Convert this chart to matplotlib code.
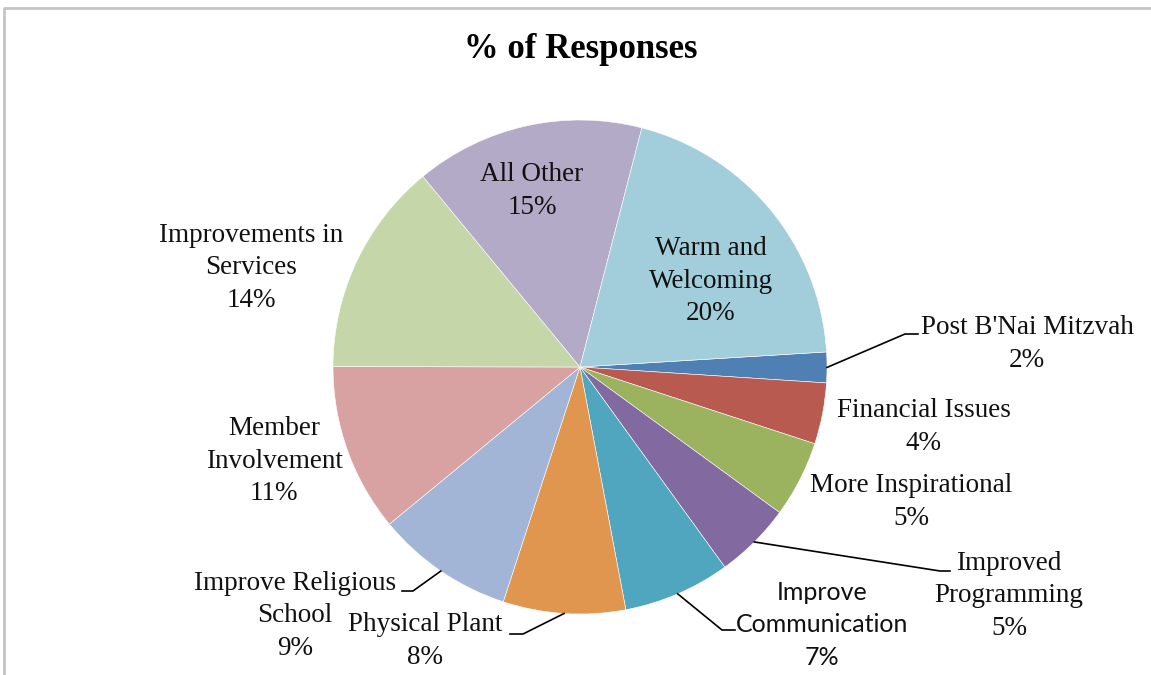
import numpy as np
import matplotlib.pyplot as plt

# Respuestas agrupadas por tema, en el orden en que van las porciones (sentido horario)
temas = ['Post B\'Nai Mitzvah', 'Financial Issues', 'More Inspirational', 'Improved\nProgramming',
         'Improve\nCommunication', 'Physical Plant', 'Improve Religious\nSchool', 'Member\nInvolvement',
         'Improvements in\nServices', 'All Other', 'Warm and\nWelcoming']
porcentajes = [2, 4, 5, 5, 7, 8, 9, 11, 14, 15, 20]

colores = ['#4F80B4', '#B85A4F', '#9BB35E', '#8269A0', '#4FA6BE', '#E0964F',
           '#A3B5D7', '#D7A2A1', '#C5D6A8', '#B3AAC8', '#A2CEDC']

W, H = 1151, 675
fig = plt.figure(figsize=(W / 100, H / 100), dpi=100)
ax = fig.add_axes([0, 0, 1, 1])

# trabajo en pixeles, con y hacia arriba
cx, cy, R = 580, H - 367, 247
wedges, _ = ax.pie(porcentajes, colors=colores, startangle=3.5, counterclock=False,
                   center=(cx, cy), radius=R,
                   wedgeprops=dict(edgecolor='white', linewidth=0.4))
ax.set_xlim(0, W)
ax.set_ylim(0, H)
ax.set_aspect('equal')
ax.axis('off')

serif = 'Liberation Serif'
fs = 19.5
interlinea = 32.5

# centro de cada etiqueta (x, y en pixeles desde arriba) y codo/final de la linea guia
pos_etiq = [(1027, 344), (924, 427), (911, 502), (1009, 596), (822, 625),
            (425, 641), (295, 616), (274, 461), (251, 268), (532, 191), (711, 281)]
guia = {0: (905, 334, 918), 3: (940, 571, 950), 4: (722, 630, 735),
        5: (523, 634, 510), 6: (413, 591, 402)}

for i, w in enumerate(wedges):
    x, y = pos_etiq[i]
    lineas = temas[i].split('\n') + ['{}%'.format(porcentajes[i])]
    n = len(lineas)
    for k, lin in enumerate(lineas):
        yk = y + (k - (n - 1) / 2) * interlinea
        if i == 4:
            ax.text(x, H - yk, lin, ha='center', va='center', fontsize=18, family='Lato',
                    color='#111111')
        else:
            ax.text(x, H - yk, lin, ha='center', va='center', fontsize=fs, family=serif,
                    color='#111111')
    if i in guia:
        ang = np.deg2rad((w.theta1 + w.theta2) / 2)
        x0, y0 = cx + R * np.cos(ang), cy + R * np.sin(ang)
        xc, yc, xf = guia[i]
        ax.plot([x0, xc, xf], [y0, H - yc, H - yc], color='black', lw=1.2)

ax.text(581, H - 50, '% of Responses', ha='center', va='center', fontsize=25,
        fontweight='bold', family=serif)

# marco del grafico
ax.plot([4, 4, W], [0, H - 8, H - 8], color='#C4C4C4', lw=2)

fig.savefig('out.png', dpi=100)
